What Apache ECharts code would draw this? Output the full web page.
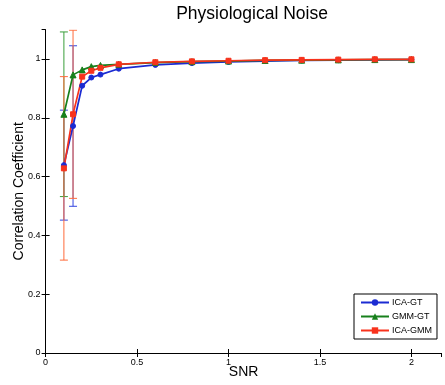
<!DOCTYPE html>
<html>
<head>
<meta charset="utf-8">
<script src="https://cdn.jsdelivr.net/npm/echarts@6/dist/echarts.min.js"></script>
<style>html,body{margin:0;padding:0;background:#fff;}#c{width:445px;height:385px;}</style>
</head>
<body>
<div id="c"></div>
<script>
var snr = [0.1, 0.15, 0.2, 0.25, 0.3, 0.4, 0.6, 0.8, 1.0, 1.2, 1.4, 1.6, 1.8, 2.0];
var icaGT  = [0.639, 0.772, 0.909, 0.937, 0.947, 0.967, 0.980, 0.986, 0.990, 0.993, 0.995, 0.996, 0.997, 0.998];
var gmmGT  = [0.812, 0.946, 0.963, 0.974, 0.978, 0.982, 0.988, 0.991, 0.993, 0.995, 0.996, 0.997, 0.998, 0.998];
var icaGMM = [0.628, 0.812, 0.940, 0.960, 0.970, 0.982, 0.989, 0.992, 0.994, 0.996, 0.997, 0.998, 0.999, 0.999];
var icaGTErr  = [0.187, 0.273, 0, 0, 0, 0, 0, 0, 0, 0, 0, 0, 0, 0];
var gmmGTErr  = [0.280, 0, 0, 0, 0, 0, 0, 0, 0, 0, 0, 0, 0, 0];
var icaGMMErr = [0.312, 0.286, 0, 0, 0, 0, 0, 0, 0, 0, 0, 0, 0, 0];
var xTickLabels = ['0', '0.5', '1', '1.5', '2'];
var yTickLabels = ['0', '0.2', '0.4', '0.6', '0.8', '1'];
var seriesNames = ['ICA-GT', 'GMM-GT', 'ICA-GMM'];

var FONT = 'Liberation Sans, Arial, Helvetica, sans-serif';
var cLine = ['#1b2bd2', '#17801c', '#f8321c'];
var cErr = ['#3446e0', '#3a9e3a', '#ff6a3a'];

function pairs(ys) { return snr.map(function (x, i) { return [x, ys[i]]; }); }
function errData(ys, es) {
  var out = [];
  snr.forEach(function (x, i) { if (es[i] > 0) out.push([x, ys[i] - es[i], ys[i] + es[i]]); });
  return out;
}
function errSeries(ys, es, color) {
  return {
    type: 'custom', clip: true, silent: true, z: 1,
    data: errData(ys, es),
    renderItem: function (params, api) {
      var x = api.value(0);
      var lo = api.coord([x, api.value(1)]);
      var hi = api.coord([x, api.value(2)]);
      var w = 4;
      var st = { stroke: color, lineWidth: 1 };
      return {
        type: 'group',
        children: [
          { type: 'line', shape: { x1: lo[0], y1: lo[1], x2: hi[0], y2: hi[1] }, style: st },
          { type: 'line', shape: { x1: lo[0] - w, y1: lo[1], x2: lo[0] + w, y2: lo[1] }, style: st },
          { type: 'line', shape: { x1: hi[0] - w, y1: hi[1], x2: hi[0] + w, y2: hi[1] }, style: st }
        ]
      };
    }
  };
}
function lineSeries(name, ys, color, symbol, size) {
  return {
    name: name, type: 'line', data: pairs(ys), z: 3,
    symbol: symbol, symbolSize: size, showSymbol: true,
    lineStyle: { color: color, width: 1.7 },
    itemStyle: { color: color, borderColor: color },
    emphasis: { disabled: true }
  };
}

var chart = echarts.init(document.getElementById('c'), null, { renderer: 'canvas' });
var axisLine = { show: true, lineStyle: { color: '#000', width: 1 } };
var tickStyle = { show: true, inside: true, length: 4, lineStyle: { color: '#000' } };
chart.setOption({
  animation: false,
  backgroundColor: '#fff',
  title: {
    text: 'Physiological Noise', left: 247, top: 0, textAlign: 'center',
    textStyle: { fontFamily: FONT, fontSize: 17.5, fontWeight: 'normal', color: '#000' }
  },
  legend: {
    orient: 'vertical', left: 354, top: 294,
    data: seriesNames,
    itemWidth: 28, itemHeight: 8, itemGap: 5,
    padding: [4, 5, 4, 6],
    borderColor: '#000', borderWidth: 1, backgroundColor: '#fff',
    textStyle: { fontFamily: FONT, fontSize: 9, color: '#000', padding: [0, 0, 0, -2] }
  },
  grid: { left: 45.6, top: 29.6, width: 396, height: 323.4, containLabel: false, outerBoundsMode: 'none' },
  xAxis: [{
    type: 'value', min: 0, max: 2.165, interval: 0.5,
    name: 'SNR', nameLocation: 'middle', nameGap: 12, nameMoveOverlap: false,
    nameTextStyle: { fontFamily: FONT, fontSize: 14, color: '#000' },
    axisLine: axisLine, axisTick: tickStyle, splitLine: { show: false },
    axisLabel: {
      fontFamily: FONT, fontSize: 9, color: '#000', margin: 5, showMaxLabel: false,
      formatter: function (v) { var i = Math.round(v / 0.5); return (Math.abs(v - i * 0.5) < 1e-6 && xTickLabels[i]) ? xTickLabels[i] : ''; }
    }
  }, {
    type: 'value', position: 'top', min: 0, max: 2.165, interval: 0.5,
    axisLine: axisLine, axisTick: tickStyle, axisLabel: { show: false }, splitLine: { show: false }
  }],
  yAxis: [{
    type: 'value', min: 0, max: 1.1, interval: 0.2,
    name: 'Correlation Coefficient', nameLocation: 'middle', nameGap: 19, nameMoveOverlap: false,
    nameTextStyle: { fontFamily: FONT, fontSize: 14, color: '#000' },
    axisLine: axisLine, axisTick: tickStyle, splitLine: { show: false },
    axisLabel: {
      fontFamily: FONT, fontSize: 9, color: '#000', margin: 5, showMaxLabel: false,
      formatter: function (v) { var i = Math.round(v / 0.2); return (Math.abs(v - i * 0.2) < 1e-6 && yTickLabels[i]) ? yTickLabels[i] : ''; }
    }
  }, {
    type: 'value', position: 'right', min: 0, max: 1.1, interval: 0.2,
    axisLine: { show: false }, axisTick: tickStyle, axisLabel: { show: false }, splitLine: { show: false }
  }],
  series: [
    errSeries(icaGT, icaGTErr, cErr[0]),
    errSeries(gmmGT, gmmGTErr, cErr[1]),
    errSeries(icaGMM, icaGMMErr, cErr[2]),
    lineSeries(seriesNames[0], icaGT, cLine[0], 'circle', 5),
    lineSeries(seriesNames[1], gmmGT, cLine[1], 'triangle', 6),
    lineSeries(seriesNames[2], icaGMM, cLine[2], 'rect', 5)
  ]
});
</script>
</body>
</html>
